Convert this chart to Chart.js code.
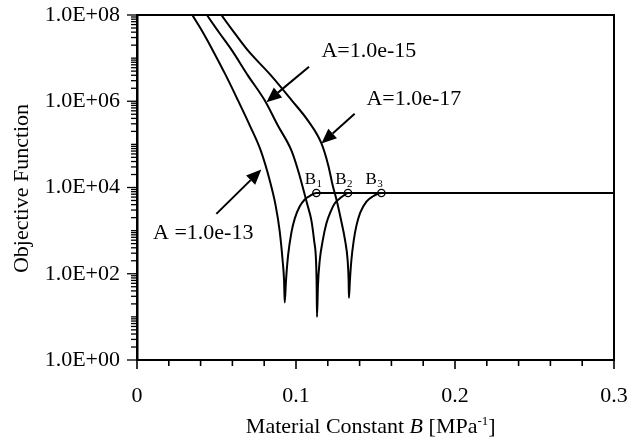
<!DOCTYPE html>
<html><head><meta charset="utf-8">
<script src="https://cdn.jsdelivr.net/npm/chart.js@4/dist/chart.umd.min.js"></script>
<style>html,body{margin:0;padding:0;background:#fff;}</style>
</head><body>
<canvas id="c" width="629" height="440"></canvas>
<script>
// ---- data ----
const B_A13 = [0.0294, 0.0348, 0.0413, 0.0476, 0.0558, 0.0635, 0.0709, 0.0778, 0.0835, 0.0872, 0.0897, 0.0916, 0.0925, 0.0929,
               0.0937, 0.0950, 0.0971, 0.0992, 0.1023, 0.1055, 0.1086, 0.1128, 0.3000];
const F_A13 = [2.23e8, 1e8, 4.03e7, 1.53e7, 4.03e6, 1.05e6, 2.77e5, 7.24e4, 1.45e4, 3810, 1000, 200, 69, 21.5,
               69, 262, 900, 1900, 3610, 5260, 6340, 7450, 7450];
const B_A15 = [0.0382, 0.0440, 0.0514, 0.0596, 0.0696, 0.0803, 0.0885, 0.0971, 0.1017, 0.1048, 0.1073, 0.1097, 0.1114, 0.1126, 0.1130, 0.1132,
               0.1138, 0.1149, 0.1168, 0.1191, 0.1218, 0.1243, 0.1275, 0.1300, 0.1327, 0.3000];
const F_A15 = [2.23e8, 1e8, 4.03e7, 1.53e7, 4.03e6, 1.05e6, 2.77e5, 7.24e4, 2.23e4, 8500, 3810, 1710, 585, 200, 52.6, 10,
               52.6, 200, 585, 1455, 2770, 4250, 5550, 6510, 7450, 7450];
const B_A17 = [0.0470, 0.0531, 0.0614, 0.0696, 0.0841, 0.0973, 0.1074, 0.1160, 0.1203, 0.1231, 0.1256, 0.1284, 0.1309, 0.1325, 0.1331, 0.1333,
               0.1339, 0.1348, 0.1363, 0.1380, 0.1404, 0.1443, 0.1482, 0.1537, 0.3000];
const F_A17 = [2.23e8, 1e8, 3.81e7, 1.53e7, 4.03e6, 1.05e6, 3.61e5, 1.05e5, 3.25e4, 1.11e4, 4990, 1710, 585, 200, 69, 27.7,
               69, 200, 585, 1305, 2620, 4720, 6180, 7450, 7450];
const markerB = [0.1128, 0.1327, 0.1537];
const markerF = [7450, 7450, 7450];
const markerSub = ['1', '2', '3'];
const xTickValues = [0, 0.1, 0.2, 0.3];
const yTickValues = [1, 1e2, 1e4, 1e6, 1e8];
const annotLabels = ['A=1.0e-15', 'A=1.0e-17', 'A =1.0e-13'];
const xTitleParts = ['Material Constant ', 'B', ' [MPa', '-1', ']'];
const yTitle = 'Objective Function';

// ---- positions / styles (data coordinates) ----
const annotPos = [
  {text: [0.1160, 1.05e7], from: [0.1082, 6.3e6], to: [0.0814, 9.5e5]},
  {text: [0.1443, 8.1e5],  from: [0.1369, 5.1e5], to: [0.1160, 1.05e5]},
  {text: [0.0101, 650],    from: [0.0499, 2450],  to: [0.0782, 2.6e4]}
];
const markerLabelPos = [[0.1055, 1.2e4], [0.1247, 1.2e4], [0.1437, 1.2e4]];
const FONT = '"Liberation Serif", "Times New Roman", serif';

function pts(bs, fs) { return bs.map((b, i) => ({x: b, y: fs[i]})); }
function curve(bs, fs) {
  return {data: pts(bs, fs), borderColor: '#000', borderWidth: 2, pointRadius: 0,
          cubicInterpolationMode: 'monotone', fill: false};
}

function arrow(ctx, x1, y1, x2, y2) {
  const ang = Math.atan2(y2 - y1, x2 - x1);
  const L = 15, W = 6.5;
  const bx = x2 - L * Math.cos(ang), by = y2 - L * Math.sin(ang);
  ctx.beginPath(); ctx.moveTo(x1, y1); ctx.lineTo(bx, by); ctx.lineWidth = 2; ctx.stroke();
  ctx.beginPath(); ctx.moveTo(x2, y2);
  ctx.lineTo(bx + W * Math.sin(ang), by - W * Math.cos(ang));
  ctx.lineTo(bx - W * Math.sin(ang), by + W * Math.cos(ang));
  ctx.closePath(); ctx.fill();
}

const decor = {
  id: 'decor',
  afterDraw(chart) {
    const ctx = chart.ctx, xs = chart.scales.x, ys = chart.scales.y, a = chart.chartArea;
    ctx.save();
    ctx.strokeStyle = '#000'; ctx.fillStyle = '#000';
    ctx.lineWidth = 2;
    ctx.beginPath(); ctx.moveTo(a.left, a.top); ctx.lineTo(a.right, a.top); ctx.lineTo(a.right, a.bottom); ctx.stroke();
    ctx.lineWidth = 1.3;
    for (let d = 0; d < 8; d++) {
      for (let k = 1; k <= 9; k++) {
        const v = k * Math.pow(10, d);
        const y = ys.getPixelForValue(v);
        const len = (k === 1 && d % 2 === 0) ? 10 : 6;
        ctx.beginPath(); ctx.moveTo(a.left - len, y); ctx.lineTo(a.left, y); ctx.stroke();
      }
    }
    { const y = ys.getPixelForValue(1e8); ctx.beginPath(); ctx.moveTo(a.left - 10, y); ctx.lineTo(a.left, y); ctx.stroke(); }
    ctx.lineWidth = 1.6;
    for (let i = 0; i <= 15; i++) {
      const v = i * 0.02;
      const x = xs.getPixelForValue(v);
      const len = (i % 5 === 0) ? 9 : 6;
      ctx.beginPath(); ctx.moveTo(x, a.bottom); ctx.lineTo(x, a.bottom + len); ctx.stroke();
    }
    ctx.font = '22px ' + FONT; ctx.textBaseline = 'alphabetic'; ctx.textAlign = 'left';
    annotPos.forEach((p, i) => {
      ctx.fillText(annotLabels[i], xs.getPixelForValue(p.text[0]), ys.getPixelForValue(p.text[1]));
      arrow(ctx, xs.getPixelForValue(p.from[0]), ys.getPixelForValue(p.from[1]),
                 xs.getPixelForValue(p.to[0]), ys.getPixelForValue(p.to[1]));
    });
    markerLabelPos.forEach((p, i) => {
      const x = xs.getPixelForValue(p[0]), y = ys.getPixelForValue(p[1]);
      ctx.font = '17px ' + FONT; ctx.fillText('B', x, y);
      const w = ctx.measureText('B').width;
      ctx.font = '11px ' + FONT; ctx.fillText(markerSub[i], x + w + 0.5, y + 3);
    });
    const baseY = 433;
    const fonts = ['22px ' + FONT, 'italic 22px ' + FONT, '22px ' + FONT, '13px ' + FONT, '22px ' + FONT];
    const dy = [0, 0, 0, -8, 0];
    let widths = xTitleParts.map((t, i) => { ctx.font = fonts[i]; return ctx.measureText(t).width; });
    const total = widths.reduce((s, w) => s + w, 0);
    let x = xs.getPixelForValue(0.147) - total / 2;
    xTitleParts.forEach((t, i) => { ctx.font = fonts[i]; ctx.fillText(t, x, baseY + dy[i]); x += widths[i]; });
    ctx.save();
    ctx.translate(22.5, (a.top + a.bottom) / 2 + 1);
    ctx.rotate(-Math.PI / 2);
    ctx.font = '22px ' + FONT; ctx.textAlign = 'center'; ctx.textBaseline = 'middle';
    ctx.fillText(yTitle, 0, 0);
    ctx.restore();
    ctx.restore();
  }
};

new Chart(document.getElementById('c').getContext('2d'), {
  type: 'line',
  data: {
    datasets: [
      curve(B_A13, F_A13),
      curve(B_A15, F_A15),
      curve(B_A17, F_A17),
      {type: 'scatter', data: pts(markerB, markerF), pointRadius: 3.6, pointBorderColor: '#000',
       pointBackgroundColor: 'rgba(0,0,0,0)', pointBorderWidth: 1.3, showLine: false}
    ]
  },
  options: {
    responsive: false, animation: false,
    layout: {padding: {top: 15, right: 15, left: 0, bottom: 0}},
    plugins: {legend: {display: false}, tooltip: {enabled: false}},
    scales: {
      x: {
        type: 'linear', min: 0, max: 0.3,
        afterBuildTicks: s => { s.ticks = xTickValues.map(v => ({value: v})); },
        afterFit: s => { s.height = 80; s.paddingLeft = 0; s.paddingRight = 0; },
        grid: {display: true, drawOnChartArea: false, drawTicks: false},
        border: {display: true, color: '#000', width: 2},
        ticks: {color: '#000', font: {family: FONT, size: 22}, padding: 23, maxRotation: 0, autoSkip: false,
                callback: v => v === 0 ? '0' : v.toFixed(1)}
      },
      y: {
        type: 'logarithmic', min: 1, max: 1e8,
        afterBuildTicks: s => { s.ticks = yTickValues.map(v => ({value: v})); },
        afterFit: s => { s.width = 137; s.paddingTop = 0; s.paddingBottom = 0; },
        grid: {display: true, drawOnChartArea: false, drawTicks: false},
        border: {display: true, color: '#000', width: 2.5},
        ticks: {color: '#000', font: {family: FONT, size: 22}, padding: 17, autoSkip: false,
                callback: v => '1.0E+' + String(Math.round(Math.log10(v))).padStart(2, '0')}
      }
    }
  },
  plugins: [decor]
});
</script>
</body></html>
